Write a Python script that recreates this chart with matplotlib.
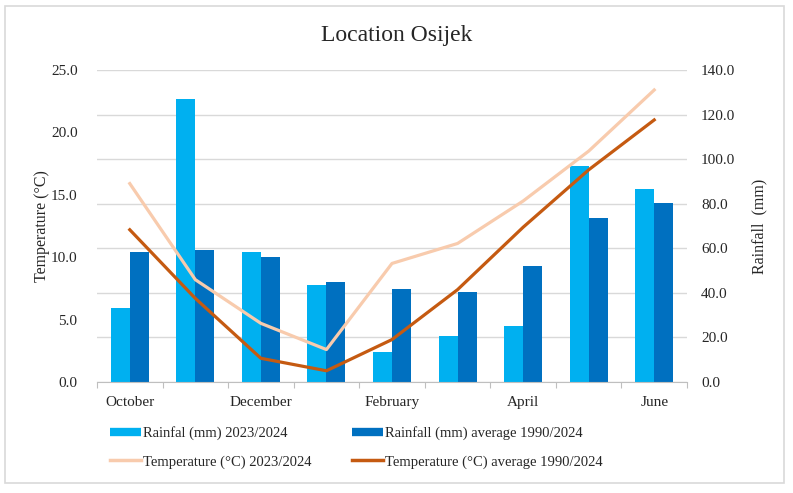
import matplotlib
matplotlib.use("Agg")
import matplotlib.pyplot as plt
from matplotlib.patches import Rectangle
from matplotlib.lines import Line2D
import numpy as np

plt.rcParams['font.family'] = ['Liberation Serif', 'DejaVu Serif']

months = ["October", "November", "December", "January", "February",
          "March", "April", "May", "June"]
tick_labels = ["October", "December", "February", "April", "June"]
rain_2324 = [33.2, 126.8, 58.3, 43.5, 13.3, 20.6, 25.1, 97.1, 86.6]
rain_avg = [58.3, 59.1, 56.0, 44.9, 41.6, 40.5, 52.0, 73.7, 80.5]
temp_2324 = [15.9, 8.2, 4.7, 2.6, 9.5, 11.1, 14.5, 18.5, 23.4]
temp_avg = [12.2, 6.7, 1.9, 0.9, 3.4, 7.4, 12.4, 17.0, 21.0]

c_rain = "#00B0F0"
c_rain_avg = "#0070C0"
c_temp = "#F8CBAD"
c_temp_avg = "#C55A11"
txt = "#262626"

W, H = 793, 493
fig = plt.figure(figsize=(W / 100, H / 100), dpi=100)
fig.patches.append(Rectangle((5 / W, 1 - 483 / H), 779 / W, 477 / H,
                             transform=fig.transFigure, fill=False,
                             edgecolor="#D9D9D9", linewidth=1.2))

ax = fig.add_axes([97 / W, 1 - 382 / H, 590 / W, 312 / H])
ax2 = ax.twinx()
ax.set_zorder(1)
ax2.set_zorder(2)
ax.patch.set_visible(False)
ax2.patch.set_visible(False)

x = np.arange(len(months))
bw = 0.29
ax.bar(x - bw / 2, rain_2324, bw, color=c_rain, zorder=2)
ax.bar(x + bw / 2, rain_avg, bw, color=c_rain_avg, zorder=2)
ax.set_xlim(-0.5, len(months) - 0.5)
ax.set_ylim(0, 140)
ax.set_yticks(np.arange(0, 141, 20))
ax.set_yticklabels([f"{v:.1f}" for v in np.arange(0, 141, 20)])
ax.yaxis.tick_right()
ax.yaxis.set_label_position("right")
ax.grid(axis="y", color="#D9D9D9", linewidth=1)
ax.set_axisbelow(True)
ax.tick_params(axis="y", length=0, pad=10, labelsize=11, labelcolor=txt)
ax.set_ylabel("Rainfall  (mm)", fontsize=11.5, color=txt, labelpad=12)
for s in ["left", "right", "top"]:
    ax.spines[s].set_visible(False)
ax.spines["bottom"].set_color("#BFBFBF")

ax.set_xticks(np.arange(-0.5, len(months), 1.0))
ax.set_xticklabels([])
ax.tick_params(axis="x", which="major", length=4, color="#BFBFBF")
ax.set_xticks([months.index(m) for m in tick_labels], minor=True)
ax.set_xticklabels(tick_labels, minor=True)
ax.tick_params(axis="x", which="minor", length=0, pad=10, labelsize=11,
               labelcolor=txt)

ax2.plot(x, temp_2324, color=c_temp, linewidth=2.3, zorder=3)
ax2.plot(x, temp_avg, color=c_temp_avg, linewidth=2.3, zorder=4)
ax2.set_ylim(0, 25)
ax2.set_yticks(np.arange(0, 26, 5))
ax2.set_yticklabels([f"{v:.1f}" for v in np.arange(0, 26, 5)])
ax2.yaxis.tick_left()
ax2.yaxis.set_label_position("left")
ax2.tick_params(axis="y", length=0, pad=14, labelsize=11, labelcolor=txt)
ax2.set_ylabel("Temperature (°C)", fontsize=11.5, color=txt, labelpad=1)
for s in ["left", "right", "top", "bottom"]:
    ax2.spines[s].set_visible(False)

fig.text(0.5, 1 - 36 / H, "Location Osijek", ha="center", va="center",
         fontsize=17, color=txt)

handles = [
    Line2D([0], [0], color=c_rain, linewidth=6, solid_capstyle="butt"),
    Line2D([0], [0], color=c_temp, linewidth=2.5),
    Line2D([0], [0], color=c_rain_avg, linewidth=6, solid_capstyle="butt"),
    Line2D([0], [0], color=c_temp_avg, linewidth=2.5),
]
labels = ["Rainfal (mm) 2023/2024", "Temperature (°C) 2023/2024",
          "Rainfall (mm) average 1990/2024", "Temperature (°C) average 1990/2024"]
fig.legend(handles, labels, ncol=2, loc="upper left",
           bbox_to_anchor=(110 / W, 1 - 426 / H), frameon=False,
           fontsize=10.5, handlelength=2.1, handletextpad=0.15,
           columnspacing=2.8, labelspacing=1.05, labelcolor=txt,
           borderaxespad=0, borderpad=0)

fig.savefig("out.png", dpi=100)
